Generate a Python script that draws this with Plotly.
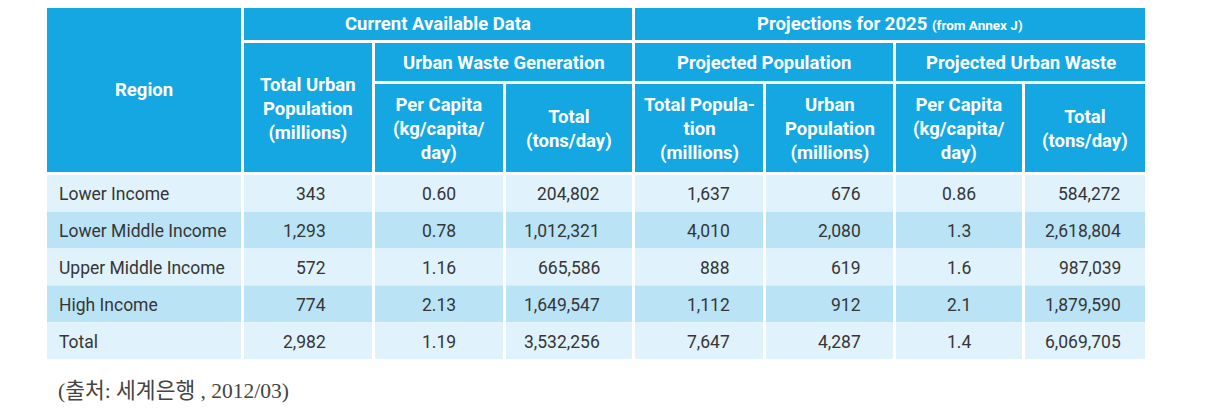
import plotly.graph_objects as go

# ---- data ----
regions = ["Lower Income", "Lower Middle Income", "Upper Middle Income", "High Income", "Total"]
urban_population = [343, 1293, 572, 774, 2982]
per_capita_current = [0.60, 0.78, 1.16, 2.13, 1.19]
total_waste_current = [204802, 1012321, 665586, 1649547, 3532256]
proj_total_population = [1637, 4010, 888, 1112, 7647]
proj_urban_population = [676, 2080, 619, 912, 4287]
proj_per_capita = [0.86, 1.3, 1.6, 2.1, 1.4]
proj_total_waste = [584272, 2618804, 987039, 1879590, 6069705]

source_note = "(출처: 세계은행 , 2012/03)"

# ---- layout / style ----
W, H = 1210, 418
PAGE_MARGIN = 8  # default body margin of the html page
HEADER_BLUE = "#14a7e2"
LIGHT_ROW = "#e0f2fb"
DARK_ROW = "#bae3f6"
TEXT = "#363636"
FONT = "Roboto"

cols = [(47, 241), (244, 372), (375, 503), (506, 632), (635, 763), (766, 893), (896, 1022), (1025, 1145)]
data_top, data_bottom = 175, 359

shapes = []
annotations = []


def cell(x0, x1, y0, y1, color):
    shapes.append(dict(type="rect", xref="x", yref="y", x0=x0, x1=x1, y0=y0, y1=y1,
                       fillcolor=color, line=dict(width=0), layer="below"))


def text(x, y, s, anchor="center", color=TEXT, size=17, bold=False):
    annotations.append(dict(x=x, y=y, xref="x", yref="y", text=("<b>%s</b>" % s) if bold else s,
                            showarrow=False, xanchor=anchor, yanchor="middle", align="center",
                            font=dict(family=FONT, size=size, color=color)))


headers = [
    ((47, 241), (5, 172), "Region"),
    ((244, 632), (5, 40), "Current Available Data"),
    ((635, 1145), (5, 40), "Projections for 2025 <span style='font-size:13.5px'>(from Annex J)</span>"),
    ((244, 372), (43, 172), "Total Urban<br>Population<br>(millions)"),
    ((375, 632), (43, 81), "Urban Waste Generation"),
    ((635, 893), (43, 81), "Projected Population"),
    ((896, 1145), (43, 81), "Projected Urban Waste"),
    ((375, 503), (84, 172), "Per Capita<br>(kg/capita/<br>day)"),
    ((506, 632), (84, 172), "Total<br>(tons/day)"),
    ((635, 763), (84, 172), "Total Popula-<br>tion<br>(millions)"),
    ((766, 893), (84, 172), "Urban<br>Population<br>(millions)"),
    ((896, 1022), (84, 172), "Per Capita<br>(kg/capita/<br>day)"),
    ((1025, 1145), (84, 172), "Total<br>(tons/day)"),
]
for (x0, x1), (y0, y1), label in headers:
    cell(x0, x1, y0, y1, HEADER_BLUE)
    text((x0 + x1) / 2, (y0 + y1) / 2 + 1, label, color="white", size=18.5, bold=True)

n = len(regions)
row_h = (data_bottom - data_top) / n
columns_text = [
    regions,
    [f"{v:,}" for v in urban_population],
    [f"{v:.2f}" for v in per_capita_current],
    [f"{v:,}" for v in total_waste_current],
    [f"{v:,}" for v in proj_total_population],
    [f"{v:,}" for v in proj_urban_population],
    [str(v) for v in proj_per_capita],
    [f"{v:,}" for v in proj_total_waste],
]
# (anchor, x)
col_align = [("left", 57), ("right", 328), ("center", 439), ("right", 602),
             ("right", 732), ("right", 863), ("center", 959), ("right", 1123)]

for i in range(n):
    y0 = data_top + i * row_h
    y1 = y0 + row_h
    color = LIGHT_ROW if i % 2 == 0 else DARK_ROW
    for c, (x0, x1) in enumerate(cols):
        cell(x0, x1, y0, y1, color)
        anchor, tx = col_align[c]
        text(tx, (y0 + y1) / 2 + 1, columns_text[c][i], anchor=anchor, size=17.5)

annotations.append(dict(x=56, y=391, xref="x", yref="y", text=source_note, showarrow=False,
                        xanchor="left", yanchor="middle",
                        font=dict(family="Liberation Serif, Noto Sans CJK KR", size=21.5, color="#444444")))

fig = go.Figure()
fig.add_trace(go.Scatter(x=[PAGE_MARGIN, W], y=[PAGE_MARGIN, H], mode="markers", marker=dict(opacity=0),
                         hoverinfo="skip", showlegend=False))
fig.update_layout(
    width=W - PAGE_MARGIN, height=H - PAGE_MARGIN, margin=dict(l=0, r=0, t=0, b=0),
    paper_bgcolor="white", plot_bgcolor="white",
    xaxis=dict(range=[PAGE_MARGIN, W], visible=False, fixedrange=True),
    yaxis=dict(range=[H, PAGE_MARGIN], visible=False, fixedrange=True),
    shapes=shapes, annotations=annotations, showlegend=False,
)
fig.write_html("out.html", config={"displayModeBar": False})
